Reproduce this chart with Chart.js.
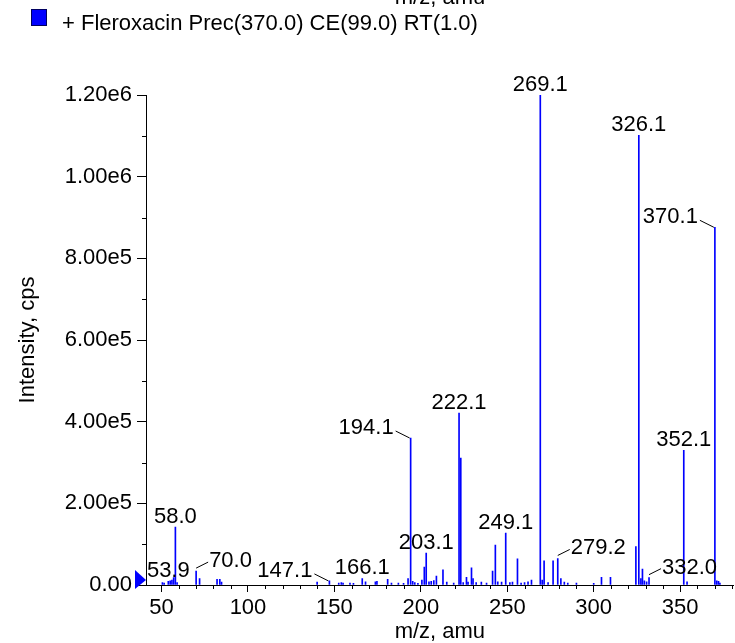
<!DOCTYPE html>
<html>
<head>
<meta charset="utf-8">
<script src="https://cdn.jsdelivr.net/npm/chart.js@4.4.1/dist/chart.umd.min.js"></script>
<style>
  body { margin: 0; background: #fff; }
</style>
</head>
<body>
<canvas id="spectrum" width="735" height="643"></canvas>
<script>
const FONT = '"Liberation Sans", Arial, Helvetica, sans-serif';

const legendText = '+ Fleroxacin Prec(370.0) CE(99.0) RT(1.0)';

// m/z of each peak and its intensity (cps)
const mz = [
  50.5, 51.5, 53.9, 55.0, 56.0, 57.0, 58.0, 59.0, 70.0, 72.0,
  82.1, 83.7, 84.7, 140.0, 147.1, 152.5, 154.0, 155.0, 159.0, 161.0,
  166.1, 168.0, 173.7, 174.6, 180.8, 183.0, 187.0, 190.0, 192.6, 194.1,
  195.3, 196.5, 198.3, 200.6, 202.0, 203.1, 204.7, 206.0, 207.5, 209.0,
  212.8, 215.0, 219.0, 222.1, 223.1, 224.5, 226.4, 227.3, 229.3, 230.2,
  232.0, 235.0, 238.0, 241.5, 243.1, 244.5, 246.7, 249.1, 251.5, 253.0,
  255.9, 258.0, 260.0, 262.0, 264.0, 269.1, 270.2, 271.3, 273.6, 276.5,
  279.2, 281.0, 283.0, 285.0, 290.0, 300.0, 304.5, 309.7, 324.4, 326.1,
  327.3, 328.2, 329.3, 330.6, 332.0, 352.1, 354.0, 370.1, 371.2, 372.2,
  373.0
];
const intensity = [
  6000, 5000, 9000, 10000, 12000, 18000, 142000, 6000, 34000, 16000,
  14000, 14000, 7000, 7000, 10000, 5000, 6000, 5000, 5000, 4000,
  16000, 8000, 8000, 9000, 14000, 5000, 5000, 4000, 16000, 360000,
  9000, 6000, 4000, 12000, 44000, 78000, 8000, 9000, 11000, 22000,
  37000, 7000, 5000, 421000, 311000, 6000, 19000, 7000, 42000, 16000,
  6000, 7000, 5000, 34000, 98000, 8000, 7000, 127000, 6000, 7000,
  64000, 5000, 6000, 8000, 12000, 1200000, 12000, 59000, 6000, 59000,
  65000, 16000, 7000, 5000, 5000, 4000, 19000, 19000, 94000, 1101000,
  16000, 39000, 10000, 8000, 18000, 330000, 8000, 876000, 10000, 9000,
  5000
];

// annotated peaks
const peakLabels = ['53.9', '58.0', '70.0', '147.1', '166.1', '194.1', '203.1', '222.1',
  '249.1', '269.1', '279.2', '326.1', '332.0', '352.1', '370.1'];
// where a label sits when it is not centred above its peak
const labelSide = { '70.0': 'right', '147.1': 'left', '194.1': 'left', '279.2': 'right', '332.0': 'right', '370.1': 'left' };

const xTickValues = [50, 60, 70, 80, 90, 100, 110, 120, 130, 140, 150, 160, 170, 180, 190,
  200, 210, 220, 230, 240, 250, 260, 270, 280, 290, 300, 310, 320, 330, 340, 350, 360, 370, 380];
const xTickLabels = ['50', '', '', '', '', '100', '', '', '', '', '150', '', '', '', '',
  '200', '', '', '', '', '250', '', '', '', '', '300', '', '', '', '', '350', '', '', ''];
const yTickValues = [0, 100000, 200000, 300000, 400000, 500000, 600000, 700000, 800000,
  900000, 1000000, 1100000, 1200000];
const yTickLabels = ['0.00', '', '2.00e5', '', '4.00e5', '', '6.00e5', '', '8.00e5', '', '1.00e6', '', '1.20e6'];

const extras = {
  id: 'extras',
  afterDraw(chart) {
    const c = chart.ctx;
    const xs = chart.scales.x, ys = chart.scales.y;
    const area = chart.chartArea;
    c.save();

    // minor ticks
    c.strokeStyle = '#000';
    c.lineWidth = 1;
    c.beginPath();
    xs.ticks.forEach((t, i) => {
      if (xTickLabels[i]) return;
      const px = Math.round(xs.getPixelForValue(t.value)) + 0.5;
      c.moveTo(px, area.bottom);
      c.lineTo(px, area.bottom + 4);
    });
    ys.ticks.forEach((t, i) => {
      if (yTickLabels[i]) return;
      const py = Math.round(ys.getPixelForValue(t.value)) + 0.5;
      c.moveTo(area.left, py);
      c.lineTo(area.left - 4, py);
    });
    c.stroke();

    // peak labels
    c.font = '22px ' + FONT;
    c.fillStyle = '#000';
    c.textBaseline = 'alphabetic';
    peakLabels.forEach(lab => {
      const i = mz.findIndex(m => m.toFixed(1) === lab);
      if (i < 0) return;
      const px = xs.getPixelForValue(mz[i]);
      const py = ys.getPixelForValue(intensity[i]);
      const side = labelSide[lab];
      if (side === 'left') {
        c.beginPath();
        c.moveTo(px - 1, py);
        c.lineTo(px - 15, py - 7);
        c.stroke();
        c.textAlign = 'right';
        c.fillText(lab, px - 17, py - 4);
      } else if (side === 'right') {
        c.beginPath();
        c.moveTo(px, py - 3);
        c.lineTo(px + 12, py - 9);
        c.stroke();
        c.textAlign = 'left';
        c.fillText(lab, px + 13, py - 4);
      } else {
        c.textAlign = 'center';
        c.fillText(lab, px, py - 4.5);
      }
    });

    // baseline marker
    const y0 = ys.getPixelForValue(0);
    c.fillStyle = '#0000ff';
    c.beginPath();
    c.moveTo(area.left - 11, y0 - 15);
    c.lineTo(area.left - 11, y0 + 4);
    c.lineTo(area.left, y0 - 5);
    c.closePath();
    c.fill();

    // legend
    c.fillStyle = '#0000ff';
    c.fillRect(31, 9, 16, 17);
    c.strokeStyle = '#000060';
    c.strokeRect(31.5, 9.5, 15, 16);
    c.fillStyle = '#000';
    c.textAlign = 'left';
    c.fillText(legendText, 62, 30);

    // title of the panel above, cut off by the top edge
    c.textAlign = 'center';
    c.fillText('m/z, amu', 440, 4);
    c.restore();
  }
};

new Chart(document.getElementById('spectrum'), {
  type: 'bar',
  data: {
    datasets: [{
      label: legendText,
      data: mz.map((m, i) => ({ x: m, y: intensity[i] })),
      backgroundColor: '#0000ff',
      borderWidth: 0,
      barThickness: 1
    }]
  },
  options: {
    responsive: false,
    animation: false,
    devicePixelRatio: 1,
    layout: { padding: { top: 95, right: 1, left: 0, bottom: 0 } },
    plugins: { legend: { display: false }, tooltip: { enabled: false } },
    scales: {
      x: {
        type: 'linear',
        min: 41,
        max: 381,
        offset: false,
        afterBuildTicks: s => { s.ticks = xTickValues.map(v => ({ value: v })); },
        afterFit: s => { s.height = 58; },
        grid: {
          offset: false,
          drawOnChartArea: false,
          tickLength: 7,
          color: ctx => xTickLabels[ctx.index] ? '#000' : 'rgba(0,0,0,0)'
        },
        border: { color: '#000', width: 1 },
        ticks: {
          autoSkip: false,
          maxRotation: 0,
          padding: 3,
          color: '#000',
          font: { size: 22, family: FONT },
          callback: (v, i) => xTickLabels[i]
        },
        title: {
          display: true,
          text: 'm/z, amu',
          color: '#000',
          font: { size: 22, family: FONT, lineHeight: 1 },
          padding: 0
        }
      },
      y: {
        min: 0,
        max: 1200000,
        afterBuildTicks: s => { s.ticks = yTickValues.map(v => ({ value: v })); },
        afterFit: s => { s.width = 146; },
        grid: {
          drawOnChartArea: false,
          tickLength: 9,
          color: ctx => yTickLabels[ctx.index] ? '#000' : 'rgba(0,0,0,0)'
        },
        border: { color: '#000', width: 1 },
        ticks: {
          autoSkip: false,
          padding: 5,
          color: '#000',
          font: { size: 22, family: FONT },
          callback: (v, i) => yTickLabels[i]
        },
        title: {
          display: true,
          text: 'Intensity, cps',
          color: '#000',
          font: { size: 22, family: FONT, lineHeight: 1 },
          padding: { top: 17, bottom: 0 }
        }
      }
    }
  },
  plugins: [extras]
});
</script>
</body>
</html>
